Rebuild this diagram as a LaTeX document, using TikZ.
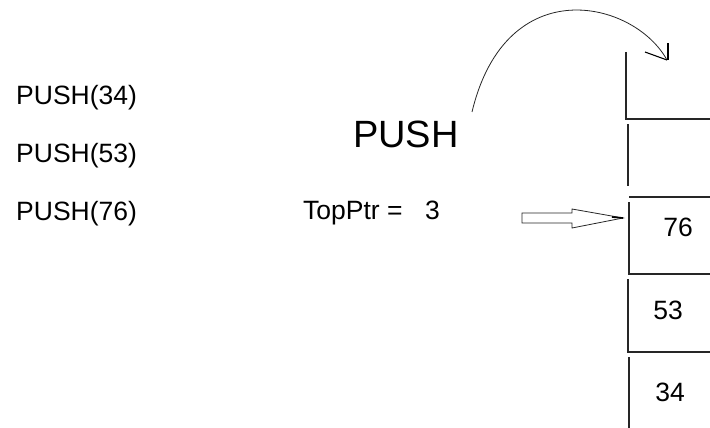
\documentclass[tikz,border=0pt]{standalone}
\usepackage{fontspec}
\setmainfont{Liberation Sans}
\begin{document}
\begin{tikzpicture}[x=1pt,y=-1pt,
  lbl/.style={inner sep=0pt, font=\fontsize{26.5}{31}\selectfont},
  big/.style={inner sep=0pt, font=\fontsize{38}{44}\selectfont},
  ln/.style={line width=1.1pt, black!85},
  thin/.style={line width=0.8pt, black!85}]
\useasboundingbox (0,0) rectangle (710,428);
% left labels
\node[lbl, anchor=west] (p34) at (16,98) {PUSH(34)};
\node[lbl, anchor=west] (p53) at (16,156) {PUSH(53)};
\node[lbl, anchor=west] (p76) at (16,213.5) {PUSH(76)};
\node[big, anchor=west] (push) at (353,134) {PUSH};
\node[lbl, anchor=west] (top) at (303,213) {TopPtr =\hspace{0.85em}3};
% stack cells
\draw[ln] (626,52) -- (626,119) -- (710,119);
\draw[ln] (628,124) -- (628,186);
\draw[ln] (629,197) -- (710,197);
\draw[ln] (629,202) -- (629,274) -- (710,274);
\draw[ln] (628,279) -- (628,352) -- (710,352);
\draw[ln] (629,357) -- (629,428);
\node[lbl] (v76) at (678,227) {76};
\node[lbl] (v53) at (668,310) {53};
\node[lbl] (v34) at (670,392) {34};
% block arrow
\coordinate (tip) at (623,218);
\draw[thin] (522,213) -- (572,213) -- (572,209) -- (tip) -- (572,228) -- (572,223) -- (522,223) -- cycle;
\draw[line width=1.6pt] (612,217) -- (tip);
% curved arrow
\coordinate (cs) at (472,112);
\coordinate (ce) at (667,60);
\draw[thin] (cs) .. controls (506,-30) and (634,0) .. (ce);
\draw[line width=1.1pt] (ce) -- (645,52);
\draw[line width=1.1pt] (ce) ++(1,0) -- (668,43);
\end{tikzpicture}
\end{document}
